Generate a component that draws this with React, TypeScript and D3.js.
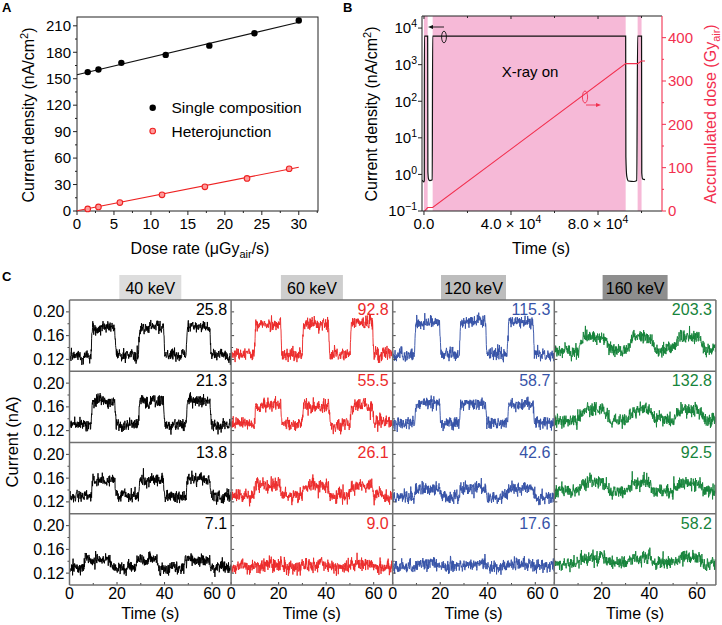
import React from "react";
import * as d3 from "d3";

const FONT = "'Liberation Sans', Arial, Helvetica, sans-serif";

// ---------- Panel A data ----------
const doseRateSingle = [1.45, 2.9, 6.0, 12.0, 17.9, 24.0, 30.0];
const currentSingle = [157.5, 160.5, 168, 177, 187.5, 201.5, 216];
const doseRateHetero = [1.45, 2.9, 5.8, 11.5, 17.3, 23.0, 28.7];
const currentHetero = [2.3, 4.6, 9.5, 18.3, 27.4, 36.9, 47.9];
const fitSingle: [number, number][] = [[0, 154.5], [30, 214]];
const fitHetero: [number, number][] = [[0, 0.3], [30, 49.6]];
const aXTicks = [0, 5, 10, 15, 20, 25, 30];
const aYTicks = [0, 30, 60, 90, 120, 150, 180, 210];
const legendA = ["Single composition", "Heterojunction"];

// ---------- Panel B data ----------
const xrayOnPeriods: [number, number][] = [[0, 1700], [4000, 92700], [98200, 100000]];
const bCurrentTime = [-900, 0, 150, 200, 1700, 1800, 2100, 2600, 3800, 4000, 92700, 92800, 93200, 94000, 96500, 97800, 98200, 100000, 100100, 100500, 101600];
const bCurrentVal = [0.7, 0.62, 0.7, 6000, 6000, 1.2, 0.75, 0.68, 0.72, 6000, 6000, 3, 0.9, 0.66, 0.64, 0.68, 6000, 6000, 1.1, 0.75, 0.72];
const bDoseTime = [300, 1700, 4000, 92700, 98200, 100000, 101600];
const bDoseVal = [0, 8, 8, 340, 340, 346, 346];
const bXTicks = [0, 40000, 80000];
const bXTickLabels = [["0.0", ""], ["4.0 × 10", "4"], ["8.0 × 10", "4"]];
const bXMinor = [20000, 60000, 100000];
const bYExps = [-1, 0, 1, 2, 3, 4];
const bY2Ticks = [0, 100, 200, 300, 400];

// ---------- Panel C data ----------
const energies = ["40 keV", "60 keV", "120 keV", "160 keV"];
const headerFills = ["#dddddd", "#cecece", "#bdbdbd", "#8e8e8e"];
const traceColors = ["#000000", "#ec2b2b", "#3753a8", "#16843b"];
const doseRateLabels = [
  ["25.8", "92.8", "115.3", "203.3"],
  ["21.3", "55.5", "58.7", "132.8"],
  ["13.8", "26.1", "42.6", "92.5"],
  ["7.1", "9.0", "17.6", "58.2"],
];
// on / off current levels in nA
const onLevels = [
  [0.175, 0.181, 0.184, 0.158],
  [0.170, 0.162, 0.165, 0.155],
  [0.158, 0.147, 0.143, 0.151],
  [0.143, 0.134, 0.135, 0.146],
];
const offLevels = [
  [0.126, 0.129, 0.128, 0.136],
  [0.130, 0.132, 0.132, 0.138],
  [0.130, 0.130, 0.128, 0.138],
  [0.129, 0.130, 0.131, 0.137],
];
const switchTimes = [
  [9, 19, 29, 39.5, 49, 59],
  [9.8, 20.8, 29.9, 41, 50, 59.5],
  [9.1, 19.7, 28, 39, 48.2, 59],
  [10, 21, 30.5, 40, 50, 61],
];
const switchTimesWeak40 = [6, 17, 27.7, 37, 48, 59];
const rampWidths = [0.6, 0.6, 0.6, 2.5];
const noiseSd = [0.0055, 0.006, 0.0055, 0.006];
const cYTicks = [0.12, 0.16, 0.2];
const cYMinor = [0.14, 0.18];
const cXTicks = [0, 20, 40, 60];
const cXMinor = [10, 30, 50];

function buildTrace(row: number, col: number): [number, number][] {
  const rng = d3.randomNormal.source(d3.randomLcg(0.137 + row * 0.21 + col * 0.053))(0, 1);
  const on = onLevels[row][col];
  const off = offLevels[row][col];
  const edges = row === 3 && col === 0 ? switchTimesWeak40 : switchTimes[col];
  const ramp = rampWidths[col];
  const sd = noiseSd[col];
  const pts: [number, number][] = [];
  let ar = 0;
  for (let i = 0; i <= 680; i++) {
    const t = i * 0.1;
    let s = 0;
    for (let k = 0; k < edges.length; k += 2) {
      s += Math.min(1, Math.max(0, (t - edges[k]) / ramp)) - Math.min(1, Math.max(0, (t - edges[k + 1]) / ramp));
    }
    ar = 0.75 * ar + 0.5 * rng();
    const v = off + (on - off) * s + sd * (0.85 * rng() + 0.6 * ar);
    pts.push([t, v]);
  }
  return pts;
}

function Sup({ base, exp }: { base: string; exp: string }) {
  return (
    <>
      {base}
      {exp && (
        <tspan dy={-6} fontSize="0.7em">
          {exp}
        </tspan>
      )}
    </>
  );
}

function PanelA() {
  const x = d3.scaleLinear().domain([0, 32.6]).range([77, 318]);
  const y = d3.scaleLinear().domain([0, 220]).range([211, 17]);
  const line = d3.line<[number, number]>().x((d) => x(d[0])).y((d) => y(d[1]));
  const xMinor = d3.range(2.5, 32.6, 5);
  const yMinor = d3.range(15, 220, 30);
  return (
    <g fontFamily={FONT}>
      <text x={2} y={12} fontSize={13} fontWeight="bold">A</text>
      <rect x={77} y={17} width={241} height={194} fill="none" stroke="#222" strokeWidth={1} />
      {aXTicks.map((t) => (
        <g key={t}>
          <line x1={x(t)} x2={x(t)} y1={211} y2={215} stroke="#222" />
          <text x={x(t)} y={229} fontSize={15} textAnchor="middle">{t}</text>
        </g>
      ))}
      {xMinor.map((t) => (
        <line key={t} x1={x(t)} x2={x(t)} y1={211} y2={213} stroke="#222" />
      ))}
      {aYTicks.map((t) => (
        <g key={t}>
          <line x1={73} x2={77} y1={y(t)} y2={y(t)} stroke="#222" />
          <text x={71} y={y(t) + 5.3} fontSize={15} textAnchor="end">{t}</text>
        </g>
      ))}
      {yMinor.map((t) => (
        <line key={t} x1={75} x2={77} y1={y(t)} y2={y(t)} stroke="#222" />
      ))}
      <text x={200} y={254} fontSize={16} textAnchor="middle">
        Dose rate (μGy<tspan dy={4} fontSize={11}>air</tspan><tspan dy={-4}>/s)</tspan>
      </text>
      <text transform="translate(34,115) rotate(-90)" fontSize={16} textAnchor="middle">
        Current density (nA/cm<tspan dy={-6} fontSize={11}>2</tspan><tspan dy={6}>)</tspan>
      </text>
      <path d={line(fitSingle) || ""} stroke="#111" strokeWidth={1.1} fill="none" />
      <path d={line(fitHetero) || ""} stroke="#ee2222" strokeWidth={1.1} fill="none" />
      {doseRateSingle.map((d, i) => (
        <circle key={i} cx={x(d)} cy={y(currentSingle[i])} r={3.2} fill="#000" />
      ))}
      {doseRateHetero.map((d, i) => (
        <circle key={i} cx={x(d)} cy={y(currentHetero[i])} r={2.8} fill="#ff9a9a" stroke="#ee2222" strokeWidth={1.1} />
      ))}
      <circle cx={152.7} cy={107.7} r={3.2} fill="#000" />
      <text x={171.5} y={113} fontSize={15.5}>{legendA[0]}</text>
      <circle cx={152.7} cy={131} r={2.8} fill="#ff9a9a" stroke="#ee2222" strokeWidth={1.1} />
      <text x={171.5} y={136.5} fontSize={15.5}>{legendA[1]}</text>
    </g>
  );
}

function PanelB() {
  const L = 422, R = 662, T = 16, B = 211;
  const x = d3.scaleLinear().domain([-900, 109400]).range([L, R]);
  const y = d3.scaleLog().domain([0.1, Math.pow(10, 4.33)]).range([B, T]);
  const y2 = d3.scaleLinear().domain([0, 450]).range([B, T]);
  const red = "#f2304f";
  const cur = bCurrentTime.map((t, i) => [t, bCurrentVal[i]] as [number, number]);
  const dose = bDoseTime.map((t, i) => [t, bDoseVal[i]] as [number, number]);
  const curLine = d3.line<[number, number]>().x((d) => x(d[0])).y((d) => y(d[1])).curve(d3.curveMonotoneX);
  const doseLine = d3.line<[number, number]>().x((d) => x(d[0])).y((d) => y2(d[1]));
  const y2Minor = d3.range(50, 450, 100);
  return (
    <g fontFamily={FONT}>
      <text x={343} y={12} fontSize={13} fontWeight="bold">B</text>
      <defs>
        <clipPath id="clipB">
          <rect x={L} y={T} width={R - L} height={B - T} />
        </clipPath>
      </defs>
      {xrayOnPeriods.map(([a, b], i) => (
        <rect key={i} x={x(a)} y={T} width={x(b) - x(a)} height={B - T} fill="#f6b9d7" />
      ))}
      <g clipPath="url(#clipB)">
        <path d={curLine(cur) || ""} stroke="#111" strokeWidth={1.2} fill="none" />
        <path d={doseLine(dose) || ""} stroke={red} strokeWidth={1.1} fill="none" />
      </g>
      <line x1={L} x2={L} y1={T} y2={B} stroke="#222" />
      <line x1={L} x2={R} y1={T} y2={T} stroke="#222" />
      <line x1={L} x2={R} y1={B} y2={B} stroke="#222" />
      <line x1={R} x2={R} y1={T} y2={B} stroke={red} strokeWidth={1.1} />
      {bXTicks.map((t, i) => (
        <g key={t}>
          <line x1={x(t)} x2={x(t)} y1={B} y2={B + 4} stroke="#222" />
          <line x1={x(t)} x2={x(t)} y1={T} y2={T + 3} stroke="#222" />
          <text x={x(t)} y={229} fontSize={15} textAnchor="middle">
            <Sup base={bXTickLabels[i][0]} exp={bXTickLabels[i][1]} />
          </text>
        </g>
      ))}
      {bXMinor.map((t) => (
        <g key={t}>
          <line x1={x(t)} x2={x(t)} y1={B} y2={B + 2} stroke="#222" />
          <line x1={x(t)} x2={x(t)} y1={T} y2={T + 2} stroke="#222" />
        </g>
      ))}
      {bYExps.map((e) => {
        const v = Math.pow(10, e);
        return (
          <g key={e}>
            <line x1={L - 4} x2={L} y1={y(v)} y2={y(v)} stroke="#222" />
            <text x={L - 5} y={y(v) + 5.3} fontSize={15} textAnchor="end">
              10<tspan dy={-6} fontSize={10.5}>{e < 0 ? "−" + Math.abs(e) : String(e)}</tspan>
            </text>
          </g>
        );
      })}
      {bY2Ticks.map((t) => (
        <g key={t}>
          <line x1={R} x2={R + 4} y1={y2(t)} y2={y2(t)} stroke={red} />
          <text x={R + 6} y={y2(t) + 5.3} fontSize={15} fill={red}>{t}</text>
        </g>
      ))}
      {y2Minor.map((t) => (
        <line key={t} x1={R} x2={R + 2} y1={y2(t)} y2={y2(t)} stroke={red} />
      ))}
      <text x={530} y={77} fontSize={15} textAnchor="middle">X-ray on</text>
      <text x={541} y={254} fontSize={16} textAnchor="middle">Time (s)</text>
      <text transform="translate(377,114) rotate(-90)" fontSize={16} textAnchor="middle">
        Current density (nA/cm<tspan dy={-6} fontSize={11}>2</tspan><tspan dy={6}>)</tspan>
      </text>
      <text transform="translate(716,114) rotate(-90)" fontSize={16} textAnchor="middle" fill={red}>
        Accumulated dose (Gy<tspan dy={4} fontSize={11}>air</tspan><tspan dy={-4}>)</tspan>
      </text>
      <ellipse cx={444} cy={37} rx={2.4} ry={5.8} fill="none" stroke="#111" strokeWidth={0.9} />
      <line x1={444} x2={431} y1={27} y2={27} stroke="#111" strokeWidth={0.9} />
      <path d="M428,27 L433,25 L433,29 Z" fill="#111" />
      <ellipse cx={585} cy={97} rx={2.6} ry={6} fill="none" stroke={red} strokeWidth={0.9} />
      <line x1={586} x2={597} y1={105} y2={105} stroke={red} strokeWidth={0.9} />
      <path d="M601,105 L596,103 L596,107 Z" fill={red} />
    </g>
  );
}

function PanelC() {
  const left = 69.5, colW = 161.6, top = 300, rowH = 71.25;
  const gridStroke = "#707070";
  const cells = [];
  for (let r = 0; r < 4; r++) {
    for (let c = 0; c < 4; c++) {
      const x0 = left + c * colW;
      const y0 = top + r * rowH;
      const x = d3.scaleLinear().domain([0, 68]).range([x0, x0 + colW]);
      const y = d3.scaleLinear().domain([0.1, 0.22]).range([y0 + rowH, y0]);
      const line = d3.line<[number, number]>().x((d) => x(d[0])).y((d) => y(d[1]));
      const id = `clipC${r}${c}`;
      cells.push(
        <g key={id}>
          <defs>
            <clipPath id={id}>
              <rect x={x0} y={y0} width={colW} height={rowH} />
            </clipPath>
          </defs>
          <path d={line(buildTrace(r, c)) || ""} stroke={traceColors[c]} strokeWidth={0.95} fill="none" clipPath={`url(#${id})`} />
          {cYTicks.map((t) => (
            <line key={t} x1={c === 0 ? x0 - 3.5 : x0} x2={c === 0 ? x0 : x0 + 3} y1={y(t)} y2={y(t)} stroke="#444" />
          ))}
          {cYMinor.map((t) => (
            <line key={t} x1={c === 0 ? x0 - 2 : x0} x2={c === 0 ? x0 : x0 + 2} y1={y(t)} y2={y(t)} stroke="#444" />
          ))}
          {c === 0 &&
            cYTicks.map((t) => (
              <text key={t} x={x0 - 5} y={y(t) + 5.5} fontSize={16} textAnchor="end">{t.toFixed(2)}</text>
            ))}
          <text x={x0 + colW - 4} y={y0 + 15} fontSize={16} textAnchor="end" fill={traceColors[c]}>
            {doseRateLabels[r][c]}
          </text>
          {r === 3 &&
            cXTicks.map((t) => (
              <g key={t}>
                <line x1={x(t)} x2={x(t)} y1={y0 + rowH} y2={y0 + rowH - 3} stroke="#444" />
                <text x={x(t)} y={599} fontSize={16} textAnchor="middle">{t}</text>
              </g>
            ))}
          {r === 3 &&
            cXMinor.map((t) => (
              <line key={t} x1={x(t)} x2={x(t)} y1={y0 + rowH} y2={y0 + rowH - 2} stroke="#444" />
            ))}
        </g>
      );
    }
  }
  return (
    <g fontFamily={FONT}>
      <text x={2} y={281} fontSize={13} fontWeight="bold">C</text>
      {energies.map((e, c) => {
        const cx = left + c * colW + colW / 2;
        const w = e.length > 6 ? 65 : 62;
        return (
          <g key={e}>
            <rect x={cx - w / 2} y={275} width={w} height={25} fill={headerFills[c]} />
            <text x={cx} y={293.5} fontSize={16} textAnchor="middle">{e}</text>
          </g>
        );
      })}
      {cells}
      {d3.range(5).map((i) => (
        <line key={"v" + i} x1={left + i * colW} x2={left + i * colW} y1={top} y2={top + 4 * rowH} stroke={gridStroke} strokeWidth={1.5} />
      ))}
      {d3.range(5).map((i) => (
        <line key={"h" + i} x1={left} x2={left + 4 * colW} y1={top + i * rowH} y2={top + i * rowH} stroke={gridStroke} strokeWidth={1.5} />
      ))}
      {energies.map((e, c) => (
        <text key={e} x={left + c * colW + colW / 2} y={619} fontSize={16} textAnchor="middle">Time (s)</text>
      ))}
      <text transform="translate(18,442) rotate(-90)" fontSize={16.5} textAnchor="middle">Current (nA)</text>
    </g>
  );
}

export default function App() {
  return (
    <svg width={722} height={625} style={{ position: "absolute", left: 0, top: 0, background: "#fff" }}>
      <rect width={722} height={625} fill="#fff" />
      <PanelA />
      <PanelB />
      <PanelC />
    </svg>
  );
}
